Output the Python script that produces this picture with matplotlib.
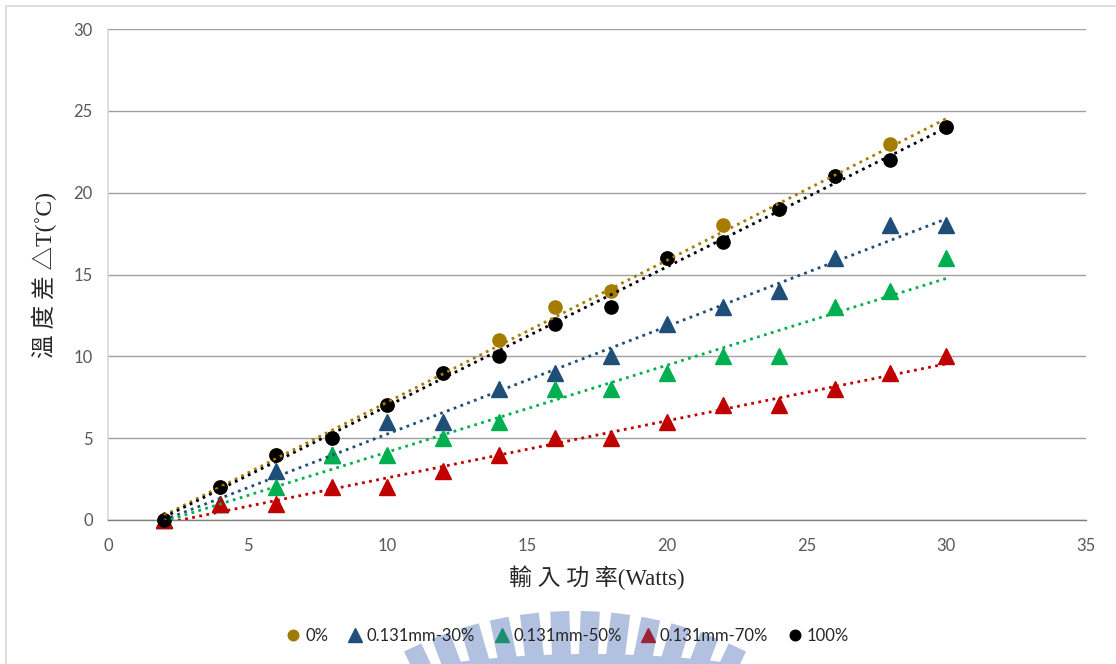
import numpy as np
import matplotlib
matplotlib.use("Agg")
import matplotlib.pyplot as plt
from matplotlib.lines import Line2D
from matplotlib.patches import Polygon, Wedge, Rectangle

# ---- data -------------------------------------------------------------
power = [2, 4, 6, 8, 10, 12, 14, 16, 18, 20, 22, 24, 26, 28, 30]
dt_0 = [0, 2, 4, 5, 7, 9, 11, 13, 14, 16, 18, 19, 21, 23, 24]
dt_30 = [0, 1, 3, 4, 6, 6, 8, 9, 10, 12, 13, 14, 16, 18, 18]
dt_50 = [0, 1, 2, 4, 4, 5, 6, 8, 8, 9, 10, 10, 13, 14, 16]
dt_70 = [0, 1, 1, 2, 2, 3, 4, 5, 5, 6, 7, 7, 8, 9, 10]
dt_100 = [0, 2, 4, 5, 7, 9, 10, 12, 13, 16, 17, 19, 21, 22, 24]

series_names = ["0%", "0.131mm-30%", "0.131mm-50%", "0.131mm-70%", "100%"]
x_ticks = [0, 5, 10, 15, 20, 25, 30, 35]
y_ticks = [0, 5, 10, 15, 20, 25, 30]

# ---- styling ----------------------------------------------------------
W, H = 1116, 664
series = [
    # values, marker, plot colour, legend colour, marker size
    (dt_0, "o", "#A57C00", "#A07A08", 9.5),
    (dt_30, "^", "#1F4E79", "#1F4E79", 12.0),
    (dt_50, "^", "#00B050", "#1A9070", 12.0),
    (dt_70, "^", "#C00000", "#9B2335", 12.0),
    (dt_100, "o", "#000000", "#000000", 9.5),
]
tick_font = "Lato"
text_color = "#595959"

fig = plt.figure(figsize=(W / 100, H / 100), dpi=100)
fig.patch.set_facecolor("white")

# ---- faint sunburst watermark below the plot -------------------------
wm = fig.add_axes([0, 0, 1, 1], zorder=0)
wm.set_xlim(0, W)
wm.set_ylim(H, 0)
wm.axis("off")
wm_color = "#B3C1E1"
cx, cy = 575, 991
r_in, r_out, ray_w = 330, 380, 19
for k in range(6):
    for sgn in (-1, 1):
        a = np.deg2rad(sgn * (2.3 + 4.6 * k))
        d = np.array([np.sin(a), -np.cos(a)])
        n = np.array([np.cos(a), np.sin(a)]) * ray_w / 2
        p0 = np.array([cx, cy]) + d * r_in
        p1 = np.array([cx, cy]) + d * r_out
        wm.add_patch(Polygon([p0 - n, p1 - n, p1 + n, p0 + n],
                             closed=True, fc=wm_color, ec="none"))
wm.add_patch(Wedge((590, 654 + 1100), 1100, 0, 360, width=26,
                   fc=wm_color, ec="none"))
# outer chart frame
wm.add_patch(Rectangle((6, 6), W + 20, H + 20, fill=False,
                       ec="#D9D9D9", lw=1.2))

# ---- main plot --------------------------------------------------------
left, right, top, bottom = 108, 1086, 29, 520
ax = fig.add_axes([left / W, (H - bottom) / H, (right - left) / W,
                   (bottom - top) / H], zorder=1)
ax.set_xlim(0, 35)
ax.set_ylim(0, 30)
ax.set_xticks(x_ticks)
ax.set_yticks(y_ticks)
ax.tick_params(length=0, labelsize=12, labelcolor=text_color)
ax.tick_params(axis="x", pad=13)
ax.tick_params(axis="y", pad=11)
for lab in ax.get_xticklabels() + ax.get_yticklabels():
    lab.set_fontfamily(tick_font)
ax.grid(axis="y", color="#A0A0A0", lw=1.0)
ax.set_axisbelow(True)
for s in ("top", "right"):
    ax.spines[s].set_visible(False)
ax.spines["left"].set_color("#D9D9D9")
ax.spines["left"].set_linewidth(1.2)
ax.spines["bottom"].set_color("#7F7F7F")
ax.spines["bottom"].set_linewidth(1.0)

x = np.array(power, dtype=float)
for vals, m, c, _, ms in series:
    ax.plot(x, vals, ls="none", marker=m, ms=ms, color=c,
            markeredgecolor=c, zorder=3, clip_on=False)

# linear trend lines (dotted) over the markers
xs = np.array([x.min(), x.max()])
for vals, m, c, _, ms in series:
    k, b = np.polyfit(x, np.array(vals, dtype=float), 1)
    ax.plot(xs, k * xs + b, color=c, lw=2.0, ls=(0, (1, 1.6)),
            dash_capstyle="butt", zorder=4)

lab_fonts = ["Liberation Serif", "Noto Sans CJK TC"]
ax.set_ylabel("溫 度 差 △T(˚C)", family=lab_fonts, fontsize=17,
              color="#262626", labelpad=12)
ax.set_xlabel("輸 入 功 率(Watts)", family=lab_fonts, fontsize=16.5,
              color="#262626", labelpad=8)

handles = [Line2D([], [], ls="none", marker=m, ms=ms * 0.8, color=lc)
           for _, m, _, lc, ms in series]
leg = fig.legend(handles, series_names, loc="center",
                 bbox_to_anchor=(567 / W, 1 - 636 / H), ncol=5,
                 frameon=False, handletextpad=0.2, columnspacing=1.1,
                 handlelength=1.0, prop={"family": tick_font, "size": 12})
for t in leg.get_texts():
    t.set_color("#262626")

fig.savefig("out.png", dpi=100, facecolor="white")
